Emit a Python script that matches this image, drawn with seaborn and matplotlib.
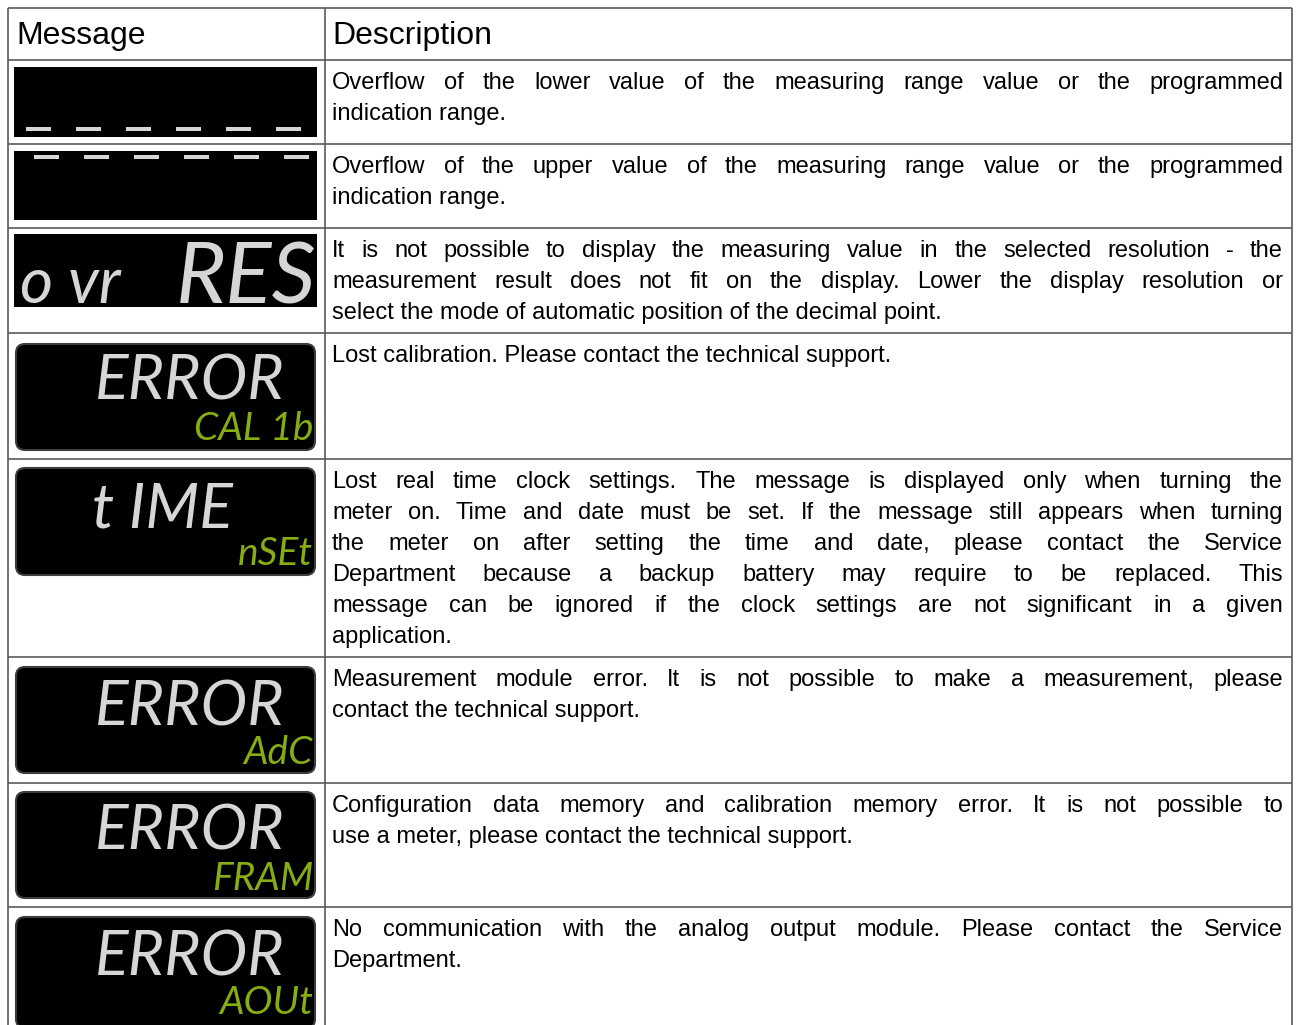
"""Message table with LCD display previews"""
import matplotlib
matplotlib.use('Agg')
import matplotlib.pyplot as plt
from matplotlib.patches import Rectangle, FancyBboxPatch
import seaborn as sns

# --- table content ---
headers = ['Message', 'Description']

lcd_lead = ['', '', 'o vr', '', '', '', '', '']
lcd_main = ['_ _ _ _ _ _', '‾ ‾ ‾ ‾ ‾ ‾', 'RES', 'ERROR', 't IME', 'ERROR', 'ERROR', 'ERROR']
lcd_sub = ['', '', '', 'CAL 1b', 'nSEt', 'AdC', 'FRAM', 'AOUt']

descriptions = [
    ['Overflow of the lower value of the measuring range value or the programmed',
     'indication range.'],
    ['Overflow of the upper value of the measuring range value or the programmed',
     'indication range.'],
    ['It is not possible to display the measuring value in the selected resolution - the',
     'measurement result does not fit on the display. Lower the display resolution or',
     'select the mode of automatic position of the decimal point.'],
    ['Lost calibration. Please contact the technical support.'],
    ['Lost real time clock settings. The message is displayed only when turning the',
     'meter on. Time and date must be set. If the message still appears when turning',
     'the meter on after setting the time and date, please contact the Service',
     'Department because a backup battery may require to be replaced. This',
     'message can be ignored if the clock settings are not significant in a given',
     'application.'],
    ['Measurement module error. It is not possible to make a measurement, please',
     'contact the technical support.'],
    ['Configuration data memory and calibration memory error. It is not possible to',
     'use a meter, please contact the technical support.'],
    ['No communication with the analog output module. Please contact the Service',
     'Department.'],
]

# --- layout (pixels) ---
W, H = 1297, 1025
row_edges = [8, 60, 144, 228, 333, 459, 657, 783, 907]
col_edges = [8, 325, 1292]
txt_left, txt_right = 332, 1283
line_step = 31
lcd_boxes = [(67, 137), (151, 220), (234, 307), (342, 452),
             (466, 577), (665, 775), (790, 900), (915, 1030)]
lcd_rounded = [False, False, False, True, True, True, True, True]

LCD_WHITE = '#d6d6d6'
LCD_GREEN = '#86ad12'
MONO = ['DejaVu Sans Mono', 'DejaVu Sans']
LCD_FONT = ['Lato', 'DejaVu Sans']

sns.set_theme(style='white')
plt.rcParams['font.family'] = ['Liberation Sans', 'DejaVu Sans']

fig = plt.figure(figsize=(W / 100, H / 100), dpi=100)
ax = fig.add_axes([0, 0, 1, 1])
ax.set_xlim(0, W)
ax.set_ylim(H, 0)
ax.axis('off')
renderer = fig.canvas.get_renderer()

# grid
ax.hlines(row_edges, col_edges[0], col_edges[-1], color='#5a5a5a', lw=1.2)
ax.vlines(col_edges, row_edges[0], H, color='#5a5a5a', lw=1.2)

# header
ax.text(16, 44, headers[0], fontsize=23, va='baseline', color='black')
ax.text(txt_left, 44, headers[1], fontsize=23, va='baseline', color='black')


def draw_line(line, y, justify):
    if not justify or len(line.split()) < 2:
        ax.text(txt_left, y, line, fontsize=17, va='baseline', color='black')
        return
    words = line.split()
    texts = [ax.text(txt_left, y, w, fontsize=17, va='baseline', color='black')
             for w in words]
    widths = [t.get_window_extent(renderer).width for t in texts]
    gap = (txt_right - txt_left - sum(widths)) / (len(words) - 1)
    x = txt_left
    for t, w in zip(texts, widths):
        t.set_x(x)
        x += w + gap


for i, lines in enumerate(descriptions):
    top = row_edges[i + 1]
    for k, line in enumerate(lines):
        draw_line(line, top + 29 + k * line_step, k < len(lines) - 1)

# LCD panels
for i, (y0, y1) in enumerate(lcd_boxes):
    if lcd_rounded[i]:
        ax.add_patch(FancyBboxPatch((16, y0 + 2), 299, y1 - y0 - 4,
                                    boxstyle='round,pad=0,rounding_size=9',
                                    fc='black', ec='#3c3c3c', lw=1.5))
    else:
        ax.add_patch(Rectangle((14, y0), 303, y1 - y0, fc='black', ec='none'))

# row 1 / 2: dashes at the bottom / top of the display
ax.text(26, 121, lcd_main[0], family=MONO, fontsize=30, fontweight='bold',
        color=LCD_WHITE, va='baseline')
ax.text(34, 187, lcd_main[1], family=MONO, fontsize=30, fontweight='bold',
        color=LCD_WHITE, va='baseline')

# row 3: o vr RES
ax.text(20, 303, lcd_lead[2], family=LCD_FONT, fontsize=46,
        style='italic', color=LCD_WHITE, va='baseline')
ax.text(316, 303, lcd_main[2], family=LCD_FONT, fontsize=62,
        style='italic', color=LCD_WHITE, va='baseline', ha='right')

# rows 4-8: main + green sub text
main_base = [400, 528, 726, 850, 975]
sub_base = [440, 565, 764, 890, 1014]
main_left = [95, 92, 95, 95, 95]
for j, i in enumerate(range(3, 8)):
    ax.text(main_left[j], main_base[j], lcd_main[i], family=LCD_FONT, fontsize=45,
            style='italic', color=LCD_WHITE, va='baseline')
    ax.text(313, sub_base[j], lcd_sub[i], family=LCD_FONT, fontsize=28,
            style='italic', color=LCD_GREEN, va='baseline', ha='right')

fig.savefig('out.png', dpi=100)
plt.close(fig)
